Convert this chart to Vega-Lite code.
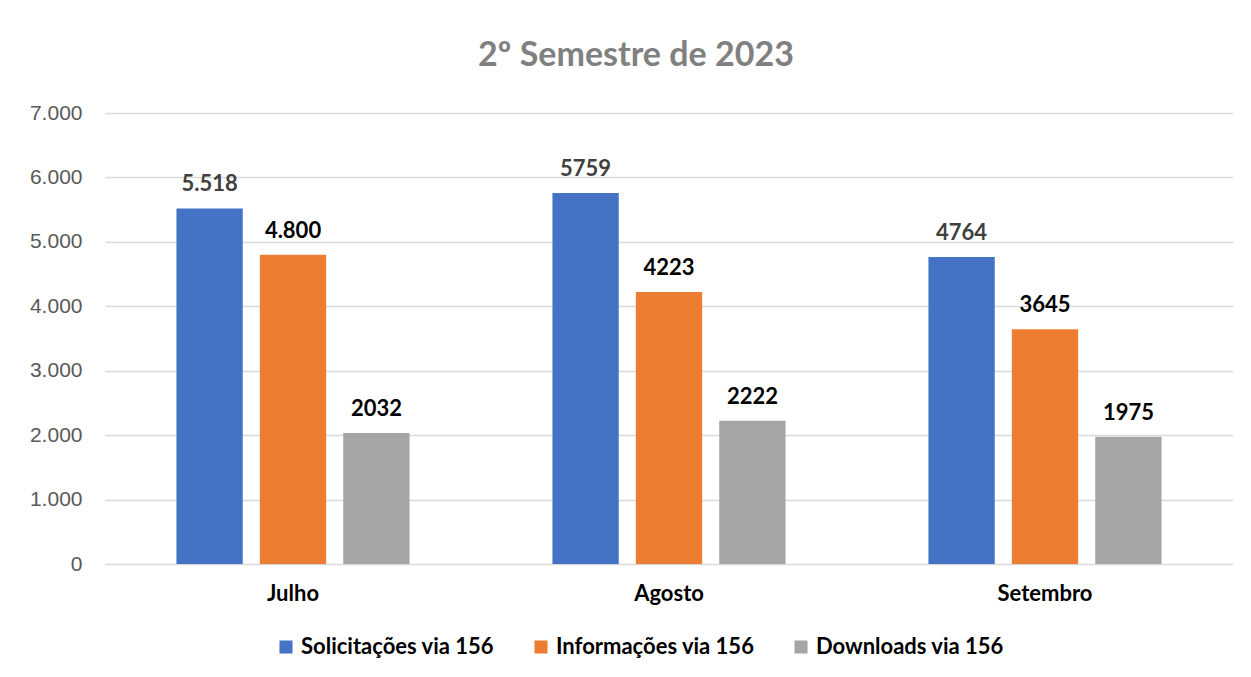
{
  "$schema": "https://vega.github.io/schema/vega-lite/v6.json",
  "autosize": "none",
  "width": 1128,
  "height": 451,
  "padding": {"left": 105, "top": 113, "right": 18, "bottom": 113},
  "background": "white",
  "title": {
    "text": "2º Semestre de 2023",
    "font": "Lato",
    "fontSize": 34,
    "fontWeight": "bold",
    "color": "#808080",
    "anchor": "middle",
    "dx": -33,
    "offset": 29
  },
  "config": {
    "view": {"stroke": null},
    "font": "Lato"
  },
  "data": {
    "values": [
      {"mes": "Julho", "serie": "Solicitações via 156", "valor": 5518, "rotulo": "5.518"},
      {"mes": "Julho", "serie": "Informações via 156", "valor": 4800, "rotulo": "4.800"},
      {"mes": "Julho", "serie": "Downloads via 156", "valor": 2032, "rotulo": "2032"},
      {"mes": "Agosto", "serie": "Solicitações via 156", "valor": 5759, "rotulo": "5759"},
      {"mes": "Agosto", "serie": "Informações via 156", "valor": 4223, "rotulo": "4223"},
      {"mes": "Agosto", "serie": "Downloads via 156", "valor": 2222, "rotulo": "2222"},
      {"mes": "Setembro", "serie": "Solicitações via 156", "valor": 4764, "rotulo": "4764"},
      {"mes": "Setembro", "serie": "Informações via 156", "valor": 3645, "rotulo": "3645"},
      {"mes": "Setembro", "serie": "Downloads via 156", "valor": 1975, "rotulo": "1975"}
    ]
  },
  "encoding": {
    "x": {
      "field": "mes",
      "type": "nominal",
      "sort": ["Julho", "Agosto", "Setembro"],
      "scale": {"paddingInner": 0.38, "paddingOuter": 0.19},
      "axis": {
        "title": null,
        "labelAngle": 0,
        "labelFont": "Lato",
        "labelFontSize": 22,
        "labelFontWeight": "bold",
        "labelColor": "#000000",
        "labelPadding": 19,
        "domain": false,
        "ticks": false
      }
    },
    "xOffset": {
      "field": "serie",
      "type": "nominal",
      "sort": ["Solicitações via 156", "Informações via 156", "Downloads via 156"],
      "scale": {"paddingInner": 0.205, "paddingOuter": 0}
    },
    "y": {
      "field": "valor",
      "type": "quantitative",
      "scale": {"domain": [0, 7000]},
      "axis": {
        "title": null,
        "values": [0, 1000, 2000, 3000, 4000, 5000, 6000, 7000],
        "labelExpr": "replace(format(datum.value, ','), ',', '.')",
        "labelFont": "Liberation Sans",
        "labelFontSize": 21,
        "labelColor": "#595959",
        "labelPadding": 23,
        "domain": false,
        "ticks": false,
        "gridColor": "#d9d9d9",
        "gridWidth": 1.5
      }
    }
  },
  "layer": [
    {
      "mark": {"type": "bar"},
      "encoding": {
        "color": {
          "field": "serie",
          "type": "nominal",
          "sort": ["Solicitações via 156", "Informações via 156", "Downloads via 156"],
          "scale": {
            "domain": ["Solicitações via 156", "Informações via 156", "Downloads via 156"],
            "range": ["#4472C4", "#ED7D31", "#A5A5A5"]
          },
          "legend": {
            "title": null,
            "orient": "none",
            "legendX": 170,
            "legendY": 523,
            "direction": "horizontal",
            "symbolType": "square",
            "symbolSize": 170,
            "symbolStrokeWidth": 0,
            "labelFont": "Lato",
            "labelFontSize": 22,
            "labelFontWeight": "bold",
            "labelColor": "#000000",
            "labelLimit": 400,
            "columnPadding": 35,
            "labelOffset": 4
          }
        }
      }
    },
    {
      "mark": {
        "type": "text",
        "baseline": "bottom",
        "dy": -12,
        "font": "Lato",
        "fontSize": 22,
        "fontWeight": "bold"
      },
      "encoding": {
        "text": {"field": "rotulo"},
        "color": {
          "condition": {"test": "datum.serie === 'Solicitações via 156'", "value": "#404040"},
          "value": "#000000"
        }
      }
    }
  ]
}
